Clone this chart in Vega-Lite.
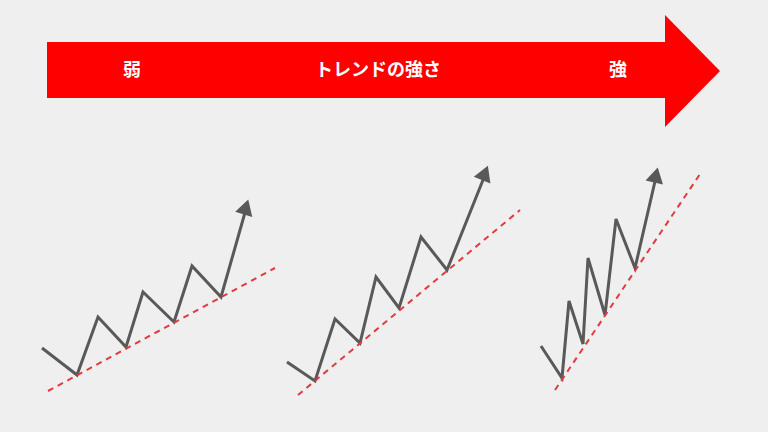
{
  "$schema": "https://vega.github.io/schema/vega-lite/v6.json",
  "width": 768,
  "height": 432,
  "autosize": {"type": "fit", "contains": "padding"},
  "padding": 0,
  "background": "#efefef",
  "config": {"view": {"stroke": null}},
  "datasets": {
    "body": [{"x": 47, "x2": 666, "y": 42, "y2": 98}],
    "head": [{"x": 665, "y": 15, "y2": 127}, {"x": 720, "y": 71, "y2": 71}],
    "labels": [
      {"x": 132, "y": 71, "label": "弱"},
      {"x": 378, "y": 71, "label": "トレンドの強さ"},
      {"x": 618, "y": 71, "label": "強"}
    ],
    "support": [
      {"panel": "weak", "x": 48, "y": 391, "x2": 275, "y2": 268},
      {"panel": "mid", "x": 298, "y": 395, "x2": 520, "y2": 210},
      {"panel": "strong", "x": 555, "y": 390, "x2": 700, "y2": 174}
    ],
    "zigzag": [
      {"panel": "weak", "i": 0, "x": 42, "y": 348},
      {"panel": "weak", "i": 1, "x": 77, "y": 375},
      {"panel": "weak", "i": 2, "x": 98, "y": 317},
      {"panel": "weak", "i": 3, "x": 126, "y": 347},
      {"panel": "weak", "i": 4, "x": 143, "y": 292},
      {"panel": "weak", "i": 5, "x": 174, "y": 322},
      {"panel": "weak", "i": 6, "x": 192, "y": 266},
      {"panel": "weak", "i": 7, "x": 221, "y": 297},
      {"panel": "weak", "i": 8, "x": 246, "y": 209},
      {"panel": "mid", "i": 0, "x": 287, "y": 362},
      {"panel": "mid", "i": 1, "x": 315, "y": 381},
      {"panel": "mid", "i": 2, "x": 335, "y": 319},
      {"panel": "mid", "i": 3, "x": 360, "y": 343},
      {"panel": "mid", "i": 4, "x": 376, "y": 277},
      {"panel": "mid", "i": 5, "x": 399, "y": 308},
      {"panel": "mid", "i": 6, "x": 421, "y": 237},
      {"panel": "mid", "i": 7, "x": 447, "y": 270},
      {"panel": "mid", "i": 8, "x": 485, "y": 175},
      {"panel": "strong", "i": 0, "x": 541, "y": 346},
      {"panel": "strong", "i": 1, "x": 562, "y": 378},
      {"panel": "strong", "i": 2, "x": 569, "y": 301},
      {"panel": "strong", "i": 3, "x": 583, "y": 344},
      {"panel": "strong", "i": 4, "x": 588, "y": 258},
      {"panel": "strong", "i": 5, "x": 605, "y": 315},
      {"panel": "strong", "i": 6, "x": 616, "y": 219},
      {"panel": "strong", "i": 7, "x": 635, "y": 268},
      {"panel": "strong", "i": 8, "x": 656, "y": 177}
    ],
    "tips": [
      {"panel": "weak", "x": 246, "y": 207},
      {"panel": "mid", "x": 485, "y": 173},
      {"panel": "strong", "x": 656, "y": 175}
    ]
  },
  "layer": [
    {
      "data": {"name": "body"},
      "mark": {"type": "rect", "color": "#ff0000"},
      "encoding": {
        "x": {"field": "x", "type": "quantitative", "scale": {"domain": [0, 768], "nice": false, "zero": false}, "axis": null},
        "x2": {"field": "x2"},
        "y": {"field": "y", "type": "quantitative", "scale": {"domain": [0, 432], "nice": false, "zero": false, "reverse": true}, "axis": null},
        "y2": {"field": "y2"}
      }
    },
    {
      "data": {"name": "head"},
      "mark": {"type": "area", "color": "#ff0000", "orient": "vertical"},
      "encoding": {
        "x": {"field": "x", "type": "quantitative", "axis": null},
        "y": {"field": "y", "type": "quantitative", "axis": null, "stack": null},
        "y2": {"field": "y2"}
      }
    },
    {
      "data": {"name": "labels"},
      "mark": {"type": "text", "color": "#ffffff", "font": "Noto Sans CJK JP", "fontSize": 18, "fontWeight": "bold", "align": "center", "baseline": "middle"},
      "encoding": {
        "x": {"field": "x", "type": "quantitative", "axis": null},
        "y": {"field": "y", "type": "quantitative", "axis": null},
        "text": {"field": "label"}
      }
    },
    {
      "data": {"name": "zigzag"},
      "mark": {"type": "line", "color": "#595959", "strokeWidth": 3, "strokeJoin": "miter", "strokeCap": "butt"},
      "encoding": {
        "x": {"field": "x", "type": "quantitative", "axis": null},
        "y": {"field": "y", "type": "quantitative", "axis": null},
        "detail": {"field": "panel"},
        "order": {"field": "i", "type": "quantitative"}
      }
    },
    {
      "data": {"name": "support"},
      "mark": {"type": "rule", "color": "#e23a3e", "strokeWidth": 2, "strokeDash": [6, 5]},
      "encoding": {
        "x": {"field": "x", "type": "quantitative", "axis": null},
        "y": {"field": "y", "type": "quantitative", "axis": null},
        "x2": {"field": "x2"},
        "y2": {"field": "y2"}
      }
    },
    {
      "data": {"name": "tips"},
      "transform": [{"filter": "datum.panel === 'weak'"}],
      "mark": {"type": "point", "shape": "triangle-up", "filled": true, "color": "#595959", "opacity": 1, "size": 320, "angle": 17},
      "encoding": {
        "x": {"field": "x", "type": "quantitative", "axis": null},
        "y": {"field": "y", "type": "quantitative", "axis": null}
      }
    },
    {
      "data": {"name": "tips"},
      "transform": [{"filter": "datum.panel === 'mid'"}],
      "mark": {"type": "point", "shape": "triangle-up", "filled": true, "color": "#595959", "opacity": 1, "size": 320, "angle": 22},
      "encoding": {
        "x": {"field": "x", "type": "quantitative", "axis": null},
        "y": {"field": "y", "type": "quantitative", "axis": null}
      }
    },
    {
      "data": {"name": "tips"},
      "transform": [{"filter": "datum.panel === 'strong'"}],
      "mark": {"type": "point", "shape": "triangle-up", "filled": true, "color": "#595959", "opacity": 1, "size": 320, "angle": 13},
      "encoding": {
        "x": {"field": "x", "type": "quantitative", "axis": null},
        "y": {"field": "y", "type": "quantitative", "axis": null}
      }
    }
  ]
}
